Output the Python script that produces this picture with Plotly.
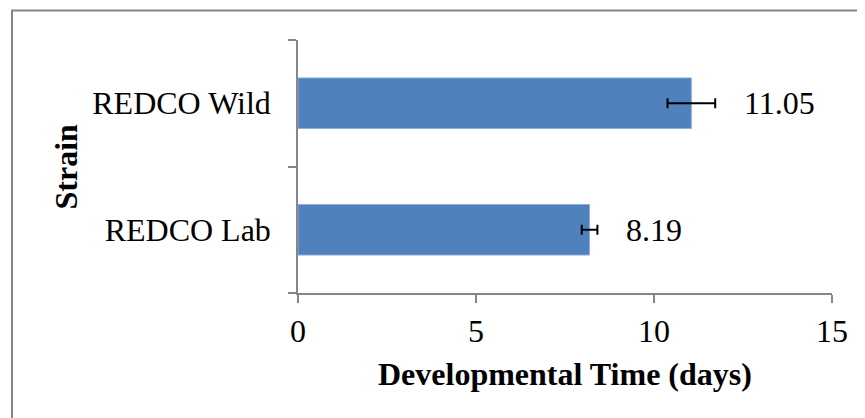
import plotly.graph_objects as go

strains = ["REDCO Lab", "REDCO Wild"]
dev_time = [8.19, 11.05]
dev_err = [0.22, 0.67]
value_labels = ["8.19", "11.05"]
x_ticks = [0, 5, 10, 15]

FONT = "Liberation Serif"
AXIS_GRAY = "#868686"
FS = 32

fig = go.Figure()
fig.add_trace(go.Bar(
    y=strains, x=dev_time, orientation="h",
    marker=dict(color="#4F81BD", line=dict(color="#8FB0DA", width=1)),
    error_x=dict(type="data", array=dev_err, color="black", thickness=2, width=5),
    width=0.4, hoverinfo="skip", showlegend=False,
))

for s, v, e, lab in zip(strains, dev_time, dev_err, value_labels):
    fig.add_annotation(x=v + e, y=s, xref="x", yref="y", text=lab,
                       showarrow=False, xanchor="left", yanchor="middle",
                       xshift=27, font=dict(family=FONT, size=FS, color="black"))

fig.add_annotation(x=0.5, y=-0.32, xref="paper", yref="paper",
                   text="<b>Developmental Time (days)</b>", showarrow=False,
                   xanchor="center", yanchor="middle",
                   font=dict(family=FONT, size=FS, color="black"))
fig.add_annotation(x=-0.4363, y=0.5, xref="paper", yref="paper",
                   text="<b>Strain</b>", showarrow=False, textangle=-90,
                   xanchor="center", yanchor="middle",
                   font=dict(family=FONT, size=FS, color="black"))

fig.add_shape(type="rect", xref="paper", yref="paper",
              x0=-0.5356, x1=1.3, y0=-0.7, y1=1.1166,
              line=dict(color=AXIS_GRAY, width=2), fillcolor="rgba(0,0,0,0)",
              layer="below")

# page body has an 8px default margin; size the figure to fit the window
fig.update_layout(
    width=857, height=410, autosize=False,
    margin=dict(l=290, r=33, t=32, b=125),
    paper_bgcolor="white", plot_bgcolor="white",
    font=dict(family=FONT, size=FS, color="black"),
    xaxis=dict(range=[0, 15], tickvals=x_ticks, ticks="outside", ticklen=8,
               tickwidth=1.5, tickcolor=AXIS_GRAY, showline=True,
               linecolor=AXIS_GRAY, linewidth=1.5, showgrid=False,
               zeroline=False, ticklabelstandoff=1, fixedrange=True),
    yaxis=dict(type="category", categoryorder="array", categoryarray=strains,
               ticks="outside", tickson="boundaries", ticklen=8, tickwidth=1.5,
               tickcolor=AXIS_GRAY, showline=True, linecolor=AXIS_GRAY,
               linewidth=1.5, showgrid=False, zeroline=False,
               ticklabelstandoff=19, fixedrange=True),
)

fig.write_html("out.html")
